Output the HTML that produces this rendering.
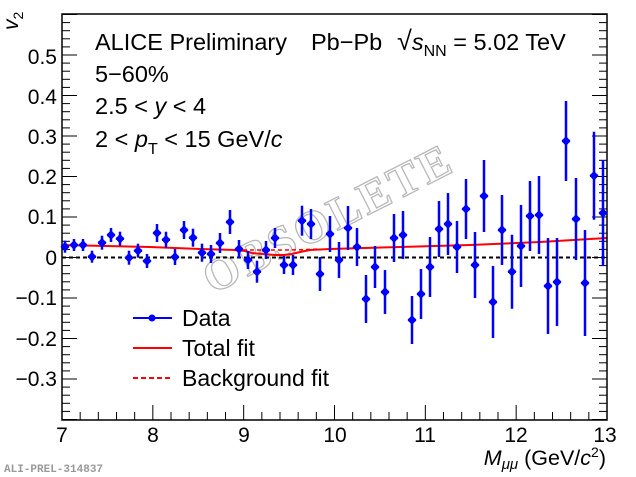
<!DOCTYPE html>
<html><head><meta charset="utf-8"><style>
html,body{margin:0;padding:0;background:#fff;}
svg{display:block;font-family:"Liberation Sans",sans-serif;}
</style></head><body>
<svg width="636" height="477" viewBox="0 0 636 477" xmlns="http://www.w3.org/2000/svg">
<rect width="636" height="477" fill="#fff"/>
<!-- watermark -->
<text x="0" y="0" transform="translate(335,232) rotate(-27)" text-anchor="middle" font-family="Liberation Serif,serif" font-weight="bold" font-size="46" letter-spacing="3" fill="#fff" stroke="#b8b8b8" stroke-width="1.3">OBSOLETE</text>

<!-- zero line -->
<line x1="62" y1="257.5" x2="607" y2="257.5" stroke="#000" stroke-width="2" stroke-dasharray="4,3"/>

<!-- fits -->
<polyline fill="none" stroke="#f00" stroke-width="2" points="62,245 150,247 200,249 236,250 245,251 252,253 262,254 275,255 284,255 292,254 300,252 310,250 330,249 400,247 470,245 540,242 607,238"/>
<polyline fill="none" stroke="#f00" stroke-width="1.5" stroke-dasharray="4,3" points="236,250 260,250 290,250 320,249"/>

<path d="M62,420 V14 H607 V420 Z" fill="none" stroke="#000" stroke-width="1.5"/>
<g stroke="#000" stroke-width="1" id="yt"></g>
<g stroke="#000" stroke-width="1" id="xt"></g>

<!-- data points -->
<g id="data" stroke="#00f" stroke-width="2.5" fill="#00f"></g>

<!-- tick labels -->
<g font-size="21" fill="#000" text-anchor="end">
<text x="57" y="64">0.5</text>
<text x="57" y="104">0.4</text>
<text x="57" y="144">0.3</text>
<text x="57" y="184">0.2</text>
<text x="57" y="224">0.1</text>
<text x="57" y="265">0</text>
<text x="57" y="305">−0.1</text>
<text x="57" y="346">−0.2</text>
<text x="57" y="386">−0.3</text>
</g>
<g font-size="21" fill="#000" text-anchor="middle">
<text x="62" y="442">7</text>
<text x="153" y="442">8</text>
<text x="244" y="442">9</text>
<text x="335" y="442">10</text>
<text x="425" y="442">11</text>
<text x="516" y="442">12</text>
<text x="605" y="442">13</text>
</g>
<text x="606" y="465" font-size="21.5" text-anchor="end"><tspan font-style="italic">M</tspan><tspan font-style="italic" font-size="15" dy="4">μμ</tspan><tspan dy="-4"> (GeV/</tspan><tspan font-style="italic">c</tspan><tspan font-size="14" dy="-8">2</tspan><tspan dy="8">)</tspan></text>
<text transform="translate(18,30) rotate(-90)" font-size="21"><tspan font-style="italic">v</tspan><tspan font-size="14" dy="5">2</tspan></text>
<text x="4" y="472" font-family="Liberation Mono,monospace" font-size="11" fill="#999" font-weight="bold">ALI-PREL-314837</text>

<!-- header -->
<g font-size="23.5" fill="#000">
<text x="95" y="50">ALICE Preliminary</text>
<text x="311" y="50">Pb−Pb</text>
<text x="397" y="50"><tspan font-size="27">√</tspan><tspan font-style="italic">s</tspan><tspan font-size="16" dy="6">NN</tspan><tspan dy="-6"> = 5.02 TeV</tspan></text>
<text x="95" y="82">5−60%</text>
<text x="95" y="114">2.5 &lt; <tspan font-style="italic">y</tspan> &lt; 4</text>
<text x="95" y="147">2 &lt; <tspan font-style="italic">p</tspan><tspan font-size="16" dy="7">T</tspan><tspan dy="-7"> &lt; 15 GeV/</tspan><tspan font-style="italic">c</tspan></text>
</g>

<!-- legend -->
<line x1="133" y1="318" x2="172" y2="318" stroke="#00f" stroke-width="2"/>
<circle cx="152" cy="318" r="3.5" fill="#00f"/>
<line x1="133" y1="348" x2="172" y2="348" stroke="#f00" stroke-width="2"/>
<line x1="133" y1="378" x2="172" y2="378" stroke="#f00" stroke-width="2" stroke-dasharray="5,3"/>
<g font-size="23" fill="#000">
<text x="182" y="326">Data</text>
<text x="182" y="356">Total fit</text>
<text x="182" y="386">Background fit</text>
</g>

<script>
(function(){
var ns="http://www.w3.org/2000/svg";
function el(p,t,a){var e=document.createElementNS(ns,t);for(var k in a)e.setAttribute(k,a[k]);p.appendChild(e);return e;}
var yt=document.getElementById('yt'),xt=document.getElementById('xt');
for(var i=-20;i<=30;i++){var y=257.5-i*8.1;if(y<14||y>420)continue;var L=(i%5==0)?15:8;
el(yt,'line',{x1:62,y1:y,x2:62+L,y2:y});el(yt,'line',{x1:607,y1:y,x2:607-L,y2:y});}
for(var j=0;j<=30;j++){var x=62+j*545/30;var L=(j%5==0)?15:8;el(xt,'line',{x1:x,y1:420,x2:x,y2:420-L});}
var pts=[[65,246.7,6],[74,245,6],[83,245,6],[92,256.7,6],[102,242.7,7],[111,235,7],[120,238.7,7],[129,257.7,7],[138,250.7,7],[147,261,7],[157,233,9],[166,239.7,8],[175,257,8],[184,230,9],[193,237.7,9],[202,252.7,9],[211,254,9],[220,243,10],[230,222,12],[239,249,9],[248,260,9],[257,271.7,11],[266,250,9],[275,238,10],[284,265,9],[293,265,10],[302,220.7,15],[311,224,15],[320,274,17],[330,234,18],[339,260,18],[348,228,22],[357,247,19],[366,299,24],[375,267,21],[385,292,22],[394,238,24],[403,235,24],[412,320,24],[421,294,25],[430,267,30],[439,229,28],[448,224,31],[457,247,26],[466,209,30],[475,265,33],[484,196,36],[493,302,36],[502,230,35],[512,271.7,37],[521,246,41],[530,216,35],[539,215,39],[548,286,48],[557,282,44],[566,141,40],[576,219,41],[585,283,53],[594,175.7,44],[603,213,53]];
var d=document.getElementById('data');
pts.forEach(function(p){var x=p[0],y=p[1],e=p[2];
el(d,'line',{x1:x,y1:y-e,x2:x,y2:y+e});
el(d,'line',{x1:x-4,y1:y,x2:x+4,y2:y});
el(d,'polygon',{points:(x)+','+(y-5)+' '+(x+4.5)+','+y+' '+x+','+(y+5)+' '+(x-4.5)+','+y,stroke:'none'});});
})();
</script>
</svg>
</body></html>
